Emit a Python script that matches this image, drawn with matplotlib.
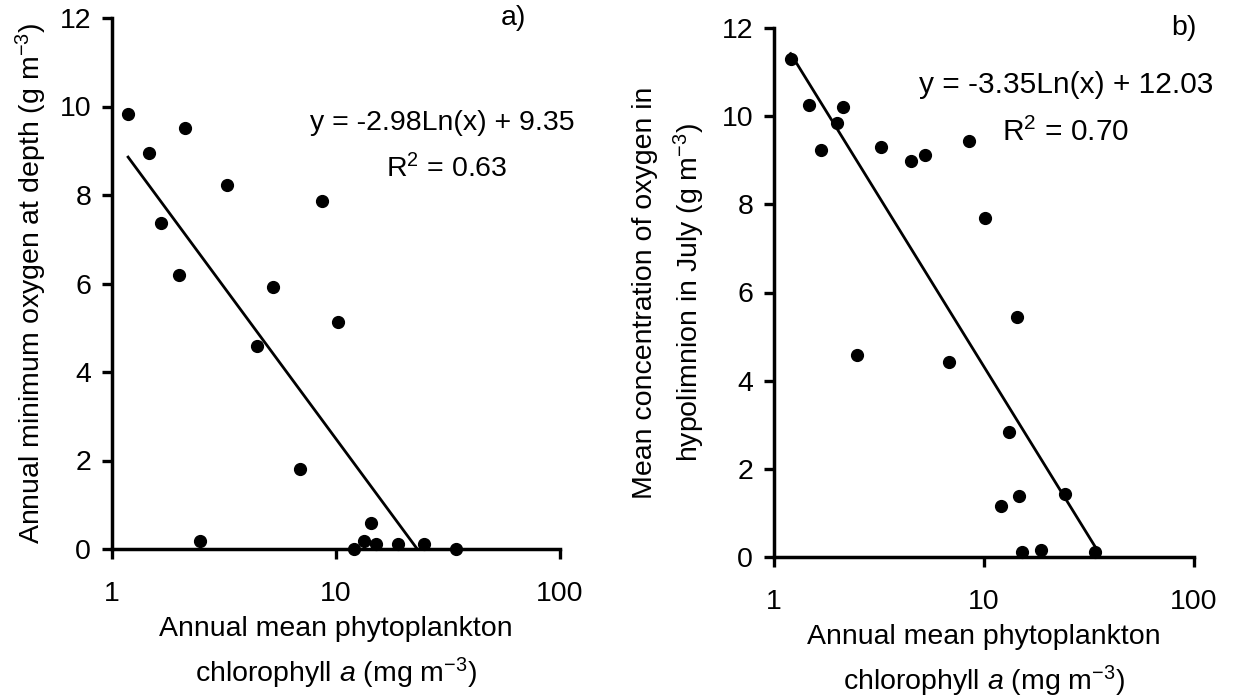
import numpy as np
import matplotlib
matplotlib.use("Agg")
import matplotlib.pyplot as plt

plt.rcParams['font.family'] = ['Liberation Sans', 'DejaVu Sans']
plt.rcParams['mathtext.fontset'] = 'custom'
plt.rcParams['mathtext.rm'] = 'Liberation Sans'
plt.rcParams['mathtext.it'] = 'Liberation Sans:italic'

# panel a) annual minimum oxygen at depth vs chlorophyll a
chl_a = [1.18, 1.46, 2.12, 1.65, 2.0, 3.26, 8.62, 5.25, 10.2, 4.45,
         6.89, 2.48, 12.0, 13.3, 14.4, 15.1, 18.9, 24.8, 34.5]
oxy_a = [9.83, 8.94, 9.52, 7.37, 6.20, 8.22, 7.86, 5.92, 5.12, 4.58,
         1.80, 0.19, 0.01, 0.19, 0.59, 0.11, 0.11, 0.11, 0.01]
fit_a = (-2.98, 9.35)
eq_a = ["y = -2.98Ln(x) + 9.35", "R$^2$ = 0.63"]

# panel b) July hypolimnion oxygen vs chlorophyll a
chl_b = [1.20, 1.47, 2.13, 2.00, 1.68, 3.23, 4.49, 5.24, 8.48, 10.1,
         14.3, 2.48, 6.79, 13.2, 14.7, 12.1, 24.4, 15.1, 18.7, 33.9]
oxy_b = [11.30, 10.25, 10.20, 9.84, 9.24, 9.30, 8.98, 9.11, 9.43, 7.70,
         5.44, 4.59, 4.42, 2.84, 1.38, 1.16, 1.43, 0.11, 0.16, 0.12]
fit_b = (-3.35, 12.03)
eq_b = ["y = -3.35Ln(x) + 12.03", "R$^2$ = 0.70"]

x_ticks = [1, 10, 100]
x_ticklabels = ['1', '10', '100']
y_ticks = [0, 2, 4, 6, 8, 10, 12]

xlabel = "Annual mean phytoplankton\nchlorophyll $a$ (mg m$^{-3}$)"
ylabel_a = "Annual minimum oxygen at depth (g m$^{-3}$)"
ylabel_b = "Mean concentration of oxygen in\nhypolimnion in July (g m$^{-3}$)"

W, H = 1237, 699
fs = 20.5

fig = plt.figure(figsize=(W / 100, H / 100), dpi=100)
ax1 = fig.add_axes([112 / W, (H - 549) / H, 448 / W, (549 - 18) / H])
ax2 = fig.add_axes([774 / W, (H - 557) / H, 420 / W, (557 - 28) / H])


def draw_panel(ax, x, y, fit, eq, tag, ylabel, eq_xy, r2_xy, tag_x, ylab_x, eq_fs):
    x = np.asarray(x)
    ax.plot(x, y, 'o', color='black', markersize=8.5, clip_on=False, zorder=3)
    xf = np.linspace(x.min(), x.max(), 200)
    ax.plot(xf, fit[0] * np.log(xf) + fit[1], color='black', linewidth=2.0)

    ax.set_xscale('log')
    ax.set_xlim(1, 100)
    ax.set_ylim(0, 12)
    ax.set_xticks(x_ticks, labels=x_ticklabels)
    ax.set_yticks(y_ticks)
    ax.minorticks_off()
    ax.tick_params(axis='both', direction='out', length=7, width=2.4,
                   labelsize=fs, color='black')
    ax.tick_params(axis='x', pad=16)
    ax.tick_params(axis='y', pad=8)
    for s in ['top', 'right']:
        ax.spines[s].set_visible(False)
    for s in ['left', 'bottom']:
        ax.spines[s].set_linewidth(2.5)

    ax.set_xlabel(xlabel, fontsize=fs, linespacing=1.5)
    ax.xaxis.set_label_coords(0.5, -0.127)
    ax.set_ylabel(ylabel, fontsize=fs, linespacing=1.5)
    ax.yaxis.set_label_coords(ylab_x, 0.5)

    ax.text(eq_xy[0], eq_xy[1], eq[0], transform=ax.transAxes,
            fontsize=eq_fs, ha='center', va='center')
    ax.text(r2_xy[0], r2_xy[1], eq[1], transform=ax.transAxes,
            fontsize=eq_fs, ha='center', va='center')
    ax.text(tag_x, 1.0, tag, transform=ax.transAxes, fontsize=fs,
            ha='center', va='center')


draw_panel(ax1, chl_a, oxy_a, fit_a, eq_a, "a)", ylabel_a,
           (0.737, 0.802), (0.748, 0.716), 0.895, -0.141, 20.5)
draw_panel(ax2, chl_b, oxy_b, fit_b, eq_b, "b)", ylabel_b,
           (0.695, 0.892), (0.695, 0.803), 0.975, -0.16, 21.5)

fig.savefig("out.png", dpi=100)
